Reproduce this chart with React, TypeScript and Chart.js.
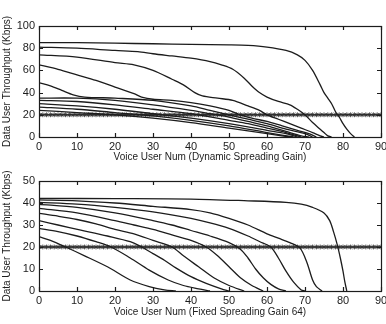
import React, { useEffect, useRef } from "react";
import { Chart, registerables } from "chart.js";

Chart.register(...registerables);

type Pt = [number, number];

// ---- Top panel: Dynamic Spreading Gain ----
const dyn1: Pt[] = [[0,85],[10,85],[20,84.5],[30,84],[40,83.5],[50,83],[55,82.5],[60,81],[65,78],[68,74],[70,69],[72,60],[74,47],[75,40],[76,35],[77,30],[78,23],[79,18],[80,12],[81,7],[82,3],[83,0]];
const dyn2: Pt[] = [[0,81],[10,80],[20,78],[26,77],[30,75],[35,73],[40,71],[45,68],[48,65],[51,61],[54,53],[56,46],[58,40],[60,36],[63,32],[66,29],[68,25],[70,20],[72,13],[74,7],[75,4],[76,1],[77,0]];
const dyn3: Pt[] = [[0,74],[10,72],[20,67],[25,65],[30,60],[35,52],[38,47],[41,40],[43,37],[47,35],[51,33],[55,28],[58,24],[60,20],[63,16],[66,12],[69,8],[72,4],[74,1],[75,0]];
const dyn4: Pt[] = [[0,65],[5,61],[10,56],[15,51],[20,45],[25,39],[27,36],[30,34],[35,33],[40,31],[45,28],[50,24],[53,20],[56,17],[60,14],[64,10],[68,6],[71,3],[73,0]];
const dyn5: Pt[] = [[0,49],[3,46],[6,42],[9,38],[12,36],[20,35],[30,33],[40,28],[45,24],[50,20],[55,16],[60,12],[65,7],[70,3],[72,0]];
const dyn6: Pt[] = [[0,35],[10,35],[20,33],[30,29],[40,24],[45,21],[50,18],[55,14],[60,10],[65,5],[69,1],[71,0]];
const dyn7: Pt[] = [[0,33],[10,32],[20,29],[30,25],[40,21],[50,15],[55,12],[60,8],[65,4],[69,0]];
const dyn8: Pt[] = [[0,30],[10,28],[20,25],[30,21],[40,17],[50,12],[60,6],[65,3],[68,0]];
const dyn9: Pt[] = [[0,27],[10,25],[20,22],[30,19],[40,15],[50,10],[60,4],[67,0]];
const dyn10: Pt[] = [[0,24],[10,22],[20,20],[30,17],[40,13],[50,8],[60,3],[66,0]];

// ---- Bottom panel: Fixed Spreading Gain 64 ----
const fix1: Pt[] = [[0,42.1],[20,42],[40,41.8],[55,41],[65,40.3],[69,39.5],[72,38],[75,35.5],[76.5,32],[77.5,27],[78.5,21],[79.3,15],[80,9],[80.5,4],[81,0]];
const fix2: Pt[] = [[0,41.4],[10,41],[20,40],[30,38.5],[40,37],[45,35.5],[50,33],[55,30],[60,26],[63,24],[66,22],[68.7,19.5],[70.5,13],[72,5],[73,2],[74.5,0]];
const fix3: Pt[] = [[0,40.3],[10,39.5],[20,38],[30,36],[40,33],[45,31],[50,28.5],[55,25],[58,22.5],[61,20],[63,15],[65,9],[67,4],[69,0.5],[70,0]];
const fix4: Pt[] = [[0,39.4],[10,38],[20,35.5],[30,32],[35,30],[40,27.5],[45,25],[50,22],[53,19],[55,15],[57,10],[59,6],[61,3],[63,1],[65,0]];
const fix5: Pt[] = [[0,37.6],[10,35.5],[20,32],[25,30],[30,28],[35,25.5],[40,23],[44,20],[47,16],[50,11],[53,6],[56,2.5],[59,0]];
const fix6: Pt[] = [[0,35.3],[5,34],[10,32.5],[15,30.5],[20,28],[25,26],[30,23],[35,20],[38,16],[42,11],[46,6],[50,2.5],[54,0]];
const fix7: Pt[] = [[0,32],[5,30],[11,27.7],[18,25],[24,22.4],[27,20],[30,17],[33,14],[36,10.5],[40,6.5],[44,3.5],[48,1],[50,0]];
const fix8: Pt[] = [[0,28.5],[5,27],[10,25],[15,22.4],[19,20],[24,15],[29,9.5],[34,5],[38,2.5],[42,1],[45,0]];
const fix9: Pt[] = [[0,24.7],[3,23],[7,20],[12,16],[18,11],[24,5],[29,2],[33,0.5],[36,0]];

const dynCurves = [dyn1, dyn2, dyn3, dyn4, dyn5, dyn6, dyn7, dyn8, dyn9, dyn10];
const fixCurves = [fix1, fix2, fix3, fix4, fix5, fix6, fix7, fix8, fix9];

const xTicks = [0, 10, 20, 30, 40, 50, 60, 70, 80, 90];
const yTicksTop = [0, 20, 40, 60, 80, 100];
const yTicksBottom = [0, 10, 20, 30, 40, 50];
const thresholdKbps = 20;
const voiceUserNum = Array.from({ length: 91 }, (_, i) => i);

const yTitle = "Data User Throughput (Kbps)";
const xTitleTop = "Voice User Num (Dynamic Spreading Gain)";
const xTitleBottom = "Voice User Num (Fixed Spreading Gain 64)";

const FONT = "'Liberation Sans', Arial, Helvetica, sans-serif";
const INK = "#1c1c1c";

const frameTicks = {
  id: "frameTicks",
  afterDatasetsDraw(chart: any) {
    const { ctx, chartArea: a, scales } = chart;
    const x = scales.x;
    const y = scales.y;
    ctx.save();
    ctx.strokeStyle = INK;
    ctx.lineWidth = 1.2;
    ctx.strokeRect(Math.round(a.left) + 0.5, Math.round(a.top) + 0.5, Math.round(a.right - a.left), Math.round(a.bottom - a.top));
    ctx.beginPath();
    x.ticks.forEach((t: any) => {
      const px = Math.round(x.getPixelForValue(t.value)) + 0.5;
      ctx.moveTo(px, a.bottom);
      ctx.lineTo(px, a.bottom - 4);
      ctx.moveTo(px, a.top);
      ctx.lineTo(px, a.top + 4);
    });
    y.ticks.forEach((t: any) => {
      const py = Math.round(y.getPixelForValue(t.value)) + 0.5;
      ctx.moveTo(a.left, py);
      ctx.lineTo(a.left + 4, py);
      ctx.moveTo(a.right, py);
      ctx.lineTo(a.right - 4, py);
    });
    ctx.stroke();
    ctx.restore();
  },
};

type PanelProps = {
  curves: Pt[][];
  yMax: number;
  yTicks: number[];
  xTitle: string;
  padTop: number;
  xAxisH: number;
  tickPad: number;
  titlePadBottom: number;
};

function Panel({ curves, yMax, yTicks, xTitle, padTop, xAxisH, tickPad, titlePadBottom }: PanelProps) {
  const ref = useRef<HTMLCanvasElement | null>(null);
  useEffect(() => {
    if (!ref.current) return;
    const datasets: any[] = curves.map((c) => ({
      data: c.map(([x, y]) => ({ x, y })),
      borderColor: INK,
      borderWidth: 1.3,
      pointRadius: 0,
      tension: 0.3,
      fill: false,
    }));
    datasets.push({
      data: voiceUserNum.map((x) => ({ x, y: thresholdKbps })),
      borderColor: INK,
      borderWidth: 1.4,
      pointStyle: "star",
      pointRadius: 2.4,
      pointBorderWidth: 0.9,
      pointBorderColor: "#333",
      pointBackgroundColor: "#333",
      fill: false,
    });
    const chart = new Chart(ref.current, {
      type: "line",
      data: { datasets },
      plugins: [frameTicks],
      options: {
        animation: false,
        responsive: false,
        maintainAspectRatio: false,
        layout: { padding: { top: padTop, right: 5, left: 0, bottom: 0 } },
        plugins: { legend: { display: false }, tooltip: { enabled: false } },
        scales: {
          x: {
            type: "linear",
            min: 0,
            max: 90,
            grid: { display: false, drawTicks: false },
            border: { display: false },
            afterBuildTicks: (s: any) => {
              s.ticks = xTicks.map((v) => ({ value: v }));
            },
            afterFit: (s: any) => {
              s.height = xAxisH;
              s.paddingLeft = 0;
              s.paddingRight = 0;
            },
            ticks: { color: INK, font: { family: FONT, size: 11 }, padding: tickPad, maxRotation: 0, autoSkip: false },
            title: { display: true, text: xTitle, color: INK, font: { family: FONT, size: 10 }, padding: { top: 0, bottom: titlePadBottom } },
          },
          y: {
            type: "linear",
            min: 0,
            max: yMax,
            grid: { display: false, drawTicks: false },
            border: { display: false },
            afterBuildTicks: (s: any) => {
              s.ticks = yTicks.map((v) => ({ value: v }));
            },
            afterFit: (s: any) => {
              s.width = 39;
              s.paddingTop = 0;
              s.paddingBottom = 0;
            },
            ticks: { color: INK, font: { family: FONT, size: 11 }, padding: 4 },
            title: { display: true, text: yTitle, color: INK, font: { family: FONT, size: 10 }, padding: { top: 1, bottom: 0 } },
          },
        },
      } as any,
    });
    return () => chart.destroy();
  }, []);
  return <canvas ref={ref} width={386} height={162} style={{ display: "block", width: 386, height: 162 }} />;
}

export default function App() {
  return (
    <div style={{ position: "absolute", left: 0, top: 0, width: 386, height: 324, background: "#fff" }}>
      <Panel curves={dynCurves} yMax={100} yTicks={yTicksTop} xTitle={xTitleTop} padTop={26} xAxisH={25} tickPad={3} titlePadBottom={-1} />
      <Panel curves={fixCurves} yMax={50} yTicks={yTicksBottom} xTitle={xTitleBottom} padTop={19} xAxisH={33} tickPad={3} titlePadBottom={6} />
    </div>
  );
}
